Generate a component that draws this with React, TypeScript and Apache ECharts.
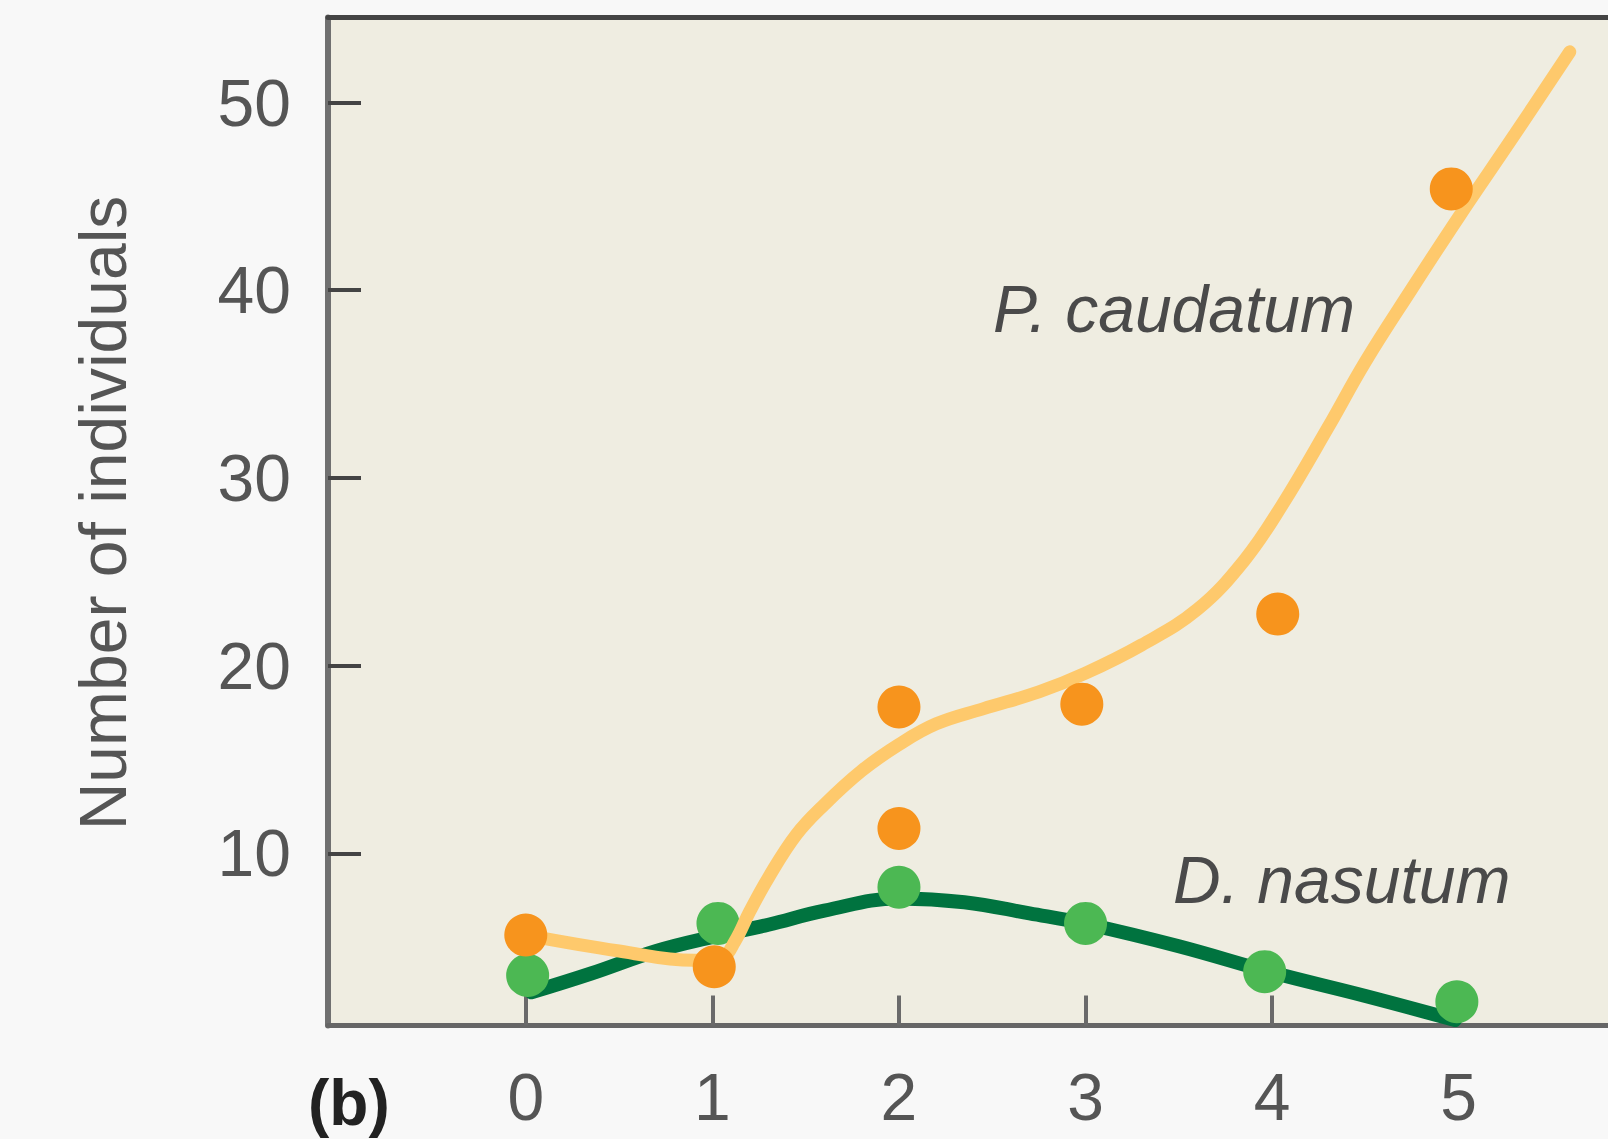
import React, { useEffect, useRef } from "react";
import * as echarts from "echarts";

// Axis ticks
const xTickValues = [0, 1, 2, 3, 4, 5];
const yTickValues = [10, 20, 30, 40, 50];

// Observed counts (x = time, y = number of individuals)
const pCaudatumPoints = [
  [0, 5.65],
  [1.01, 3.96],
  [2, 17.8],
  [2, 11.33],
  [2.98, 17.95],
  [4.03, 22.75],
  [4.96, 45.4],
];
const dNasutumPoints = [
  [0.01, 3.5],
  [1.03, 6.27],
  [2, 8.2],
  [3, 6.27],
  [3.96, 3.7],
  [4.99, 2.1],
];

// Hand-drawn trend curves
const pCaudatumCurve = [
  [0, 5.65],
  [0.5, 4.8],
  [0.9, 4.3],
  [1.05, 4.45],
  [1.12, 5.3],
  [1.2, 6.9],
  [1.3, 8.7],
  [1.45, 11.0],
  [1.6, 12.6],
  [1.8, 14.4],
  [2.0, 15.8],
  [2.2, 16.9],
  [2.45, 17.7],
  [2.75, 18.6],
  [3.0, 19.6],
  [3.3, 21.1],
  [3.6, 23.0],
  [3.85, 25.6],
  [4.05, 28.5],
  [4.3, 32.7],
  [4.5, 36.2],
  [4.75, 40.1],
  [5.0, 43.9],
  [5.3, 48.3],
  [5.595, 52.7],
];
const dNasutumCurve = [
  [0.03, 2.6],
  [0.35, 3.6],
  [0.7, 4.8],
  [1.0, 5.55],
  [1.3, 6.2],
  [1.6, 6.95],
  [2.0, 7.6],
  [2.35, 7.4],
  [2.7, 6.8],
  [3.0, 6.25],
  [3.5, 5.05],
  [4.0, 3.65],
  [4.5, 2.4],
  [4.98, 1.12],
];

const FONT = "'Liberation Sans', Arial, Helvetica, sans-serif";

export default function App() {
  const ref = useRef<HTMLDivElement>(null);

  useEffect(() => {
    if (!ref.current) return;
    const chart = echarts.init(ref.current, undefined, { renderer: "svg" });
    const xMin = -1.06;
    const xMax = 5.8;
    const yMin = 0.83;
    const yMax = 54.53;
    chart.setOption({
      animation: false,
      backgroundColor: "#f8f8f8",
      grid: {
        left: 328,
        right: 0,
        top: 17.5,
        bottom: 113.5,
        show: true,
        backgroundColor: "#efede1",
        borderWidth: 0,
      },
      xAxis: [
        {
          type: "value",
          min: xMin,
          max: xMax,
          position: "bottom",
          axisLine: { show: true, onZero: false, lineStyle: { color: "#666", width: 5 } },
          axisTick: {
            show: true,
            inside: true,
            length: 30,
            customValues: xTickValues,
            lineStyle: { color: "#6a6a6a", width: 4 },
          },
          axisLabel: {
            customValues: xTickValues,
            margin: 38,
            fontSize: 66,
            color: "#555",
            fontFamily: FONT,
          },
          splitLine: { show: false },
        },
        {
          type: "value",
          min: xMin,
          max: xMax,
          position: "top",
          axisLine: { show: true, onZero: false, lineStyle: { color: "#444", width: 5 } },
          axisTick: { show: false },
          axisLabel: { show: false },
          splitLine: { show: false },
        },
      ],
      yAxis: {
        type: "value",
        min: yMin,
        max: yMax,
        axisLine: { show: true, onZero: false, lineStyle: { color: "#707070", width: 6 } },
        axisTick: {
          show: true,
          inside: true,
          length: 33,
          customValues: yTickValues,
          lineStyle: { color: "#444", width: 4 },
        },
        axisLabel: {
          customValues: yTickValues,
          margin: 37,
          fontSize: 66,
          color: "#555",
          fontFamily: FONT,
        },
        splitLine: { show: false },
      },
      series: [
        {
          name: "D. nasutum trend",
          type: "line",
          data: dNasutumCurve,
          smooth: 0.4,
          showSymbol: false,
          lineStyle: { color: "#00733f", width: 14, cap: "round" },
          z: 2,
        },
        {
          name: "D. nasutum",
          type: "scatter",
          data: dNasutumPoints,
          symbolSize: 43,
          itemStyle: { color: "#4cb853", opacity: 1 },
          z: 3,
        },
        {
          name: "P. caudatum trend",
          type: "line",
          data: pCaudatumCurve,
          smooth: 0.4,
          showSymbol: false,
          lineStyle: { color: "#fec96c", width: 13, cap: "round" },
          z: 4,
        },
        {
          name: "P. caudatum",
          type: "scatter",
          data: pCaudatumPoints,
          symbolSize: 43,
          itemStyle: { color: "#f7941d", opacity: 1 },
          z: 5,
        },
      ],
      graphic: [
        {
          type: "text",
          x: 103,
          y: 513,
          rotation: Math.PI / 2,
          style: {
            text: "Number of individuals",
            fontSize: 66,
            fontFamily: FONT,
            fill: "#555",
            align: "center",
            verticalAlign: "middle",
          },
        },
        {
          type: "text",
          x: 993,
          y: 309,
          style: {
            text: "P. caudatum",
            fontSize: 66,
            fontStyle: "italic",
            fontFamily: FONT,
            fill: "#4a4a4a",
            align: "left",
            verticalAlign: "middle",
          },
        },
        {
          type: "text",
          x: 1173,
          y: 880,
          style: {
            text: "D. nasutum",
            fontSize: 66,
            fontStyle: "italic",
            fontFamily: FONT,
            fill: "#4a4a4a",
            align: "left",
            verticalAlign: "middle",
          },
        },
        {
          type: "text",
          x: 308,
          y: 1103,
          style: {
            text: "(b)",
            fontSize: 64,
            fontWeight: "bold",
            fontFamily: FONT,
            fill: "#222",
            align: "left",
            verticalAlign: "middle",
          },
        },
      ],
    });
    return () => chart.dispose();
  }, []);

  return (
    <div
      ref={ref}
      style={{ position: "fixed", left: 0, top: 0, width: 1608, height: 1139 }}
    />
  );
}
